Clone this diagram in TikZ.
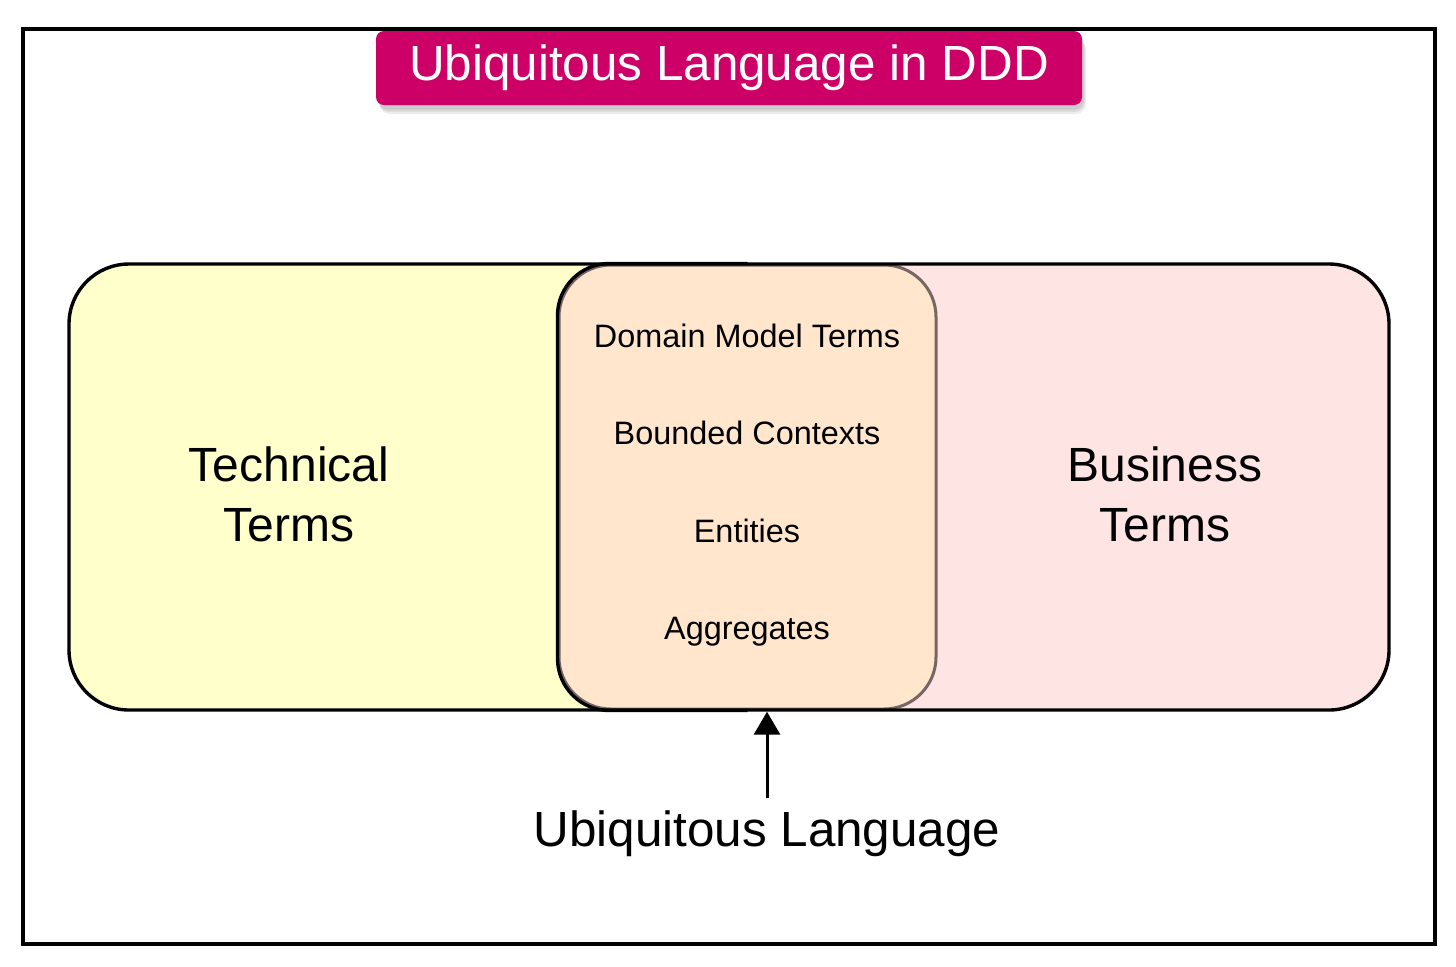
\documentclass[tikz,border=0pt]{standalone}
\usepackage{fontspec}
\setmainfont{Liberation Sans}
\usetikzlibrary{arrows.meta}
\definecolor{titlec}{HTML}{CC0066}
\definecolor{techc}{HTML}{FFFFCC}
\definecolor{busc}{HTML}{FFE4E4}
\definecolor{midc}{HTML}{FFE6CC}
\definecolor{midline}{HTML}{776666}
\begin{document}
\begin{tikzpicture}[x=0.5pt,y=-0.5pt,
  titlebox/.style={rectangle, rounded corners=4pt, fill=titlec, text=white,
    minimum width=353pt, minimum height=37pt, inner sep=0pt,
    font=\fontsize{24.7}{30}\selectfont},
  shadowbox/.style={rectangle, rounded corners=5pt, fill=black, opacity=0.07,
    minimum width=353pt, minimum height=37pt, inner sep=0pt},
  bigbox/.style={rectangle, rounded corners=30pt, line width=1.7pt,
    minimum width=660pt, minimum height=223pt, inner sep=0pt},
  midbox/.style={rectangle, rounded corners=26pt, line width=1.5pt, draw=midline, fill=midc,
    minimum width=188.5pt, minimum height=222pt, inner sep=0pt},
  bigtext/.style={align=center, font=\fontsize{24}{30}\selectfont, inner sep=0pt},
  midtext/.style={anchor=base, font=\fontsize{16.2}{20}\selectfont, inner sep=0pt},
  labeltext/.style={anchor=base, font=\fontsize{24.7}{30}\selectfont, inner sep=0pt},
  arr/.style={line width=1.5pt, -{Triangle[width=13pt,length=11.5pt]}}
]
\useasboundingbox (0,0) rectangle (1456,966);
\fill[white] (0,0) rectangle (1456,966);
\draw[line width=2pt] (23,29) rectangle (1435,944);

% big box filled: pink with yellow left half
\node[bigbox, fill=busc, path picture={\fill[techc] (path picture bounding box.south west) rectangle (path picture bounding box.north);}] (big) at (729,487) {};
\node[midbox] (mid) at (747.5,487) {};
\draw[line width=1.7pt, rounded corners=26pt] (mid.north) -- (mid.north west) -- (mid.south west) -- (mid.south);
\node[bigbox, draw=black] (bigline) at (729,487) {};

% soft shadow of the title
\node[shadowbox] (sh1) at (731,73) {};
\node[shadowbox] (sh2) at (732,75) {};
\node[shadowbox] (sh3) at (733,77) {};
\node[titlebox] (title) at (729,68) {Ubiquitous Language in DDD};

\node[bigtext] (tech) at (289,494) {Technical\\Terms};
\node[bigtext] (bus) at (1165,494) {Business\\Terms};

\node[midtext] (dmt) at (747,347) {Domain Model Terms};
\node[midtext] (bc) at (747,444.5) {Bounded Contexts};
\node[midtext] (ent) at (747,542) {Entities};
\node[midtext] (agg) at (747,639) {Aggregates};

\node[labeltext] (ul) at (767,846) {Ubiquitous Language};
\coordinate (ulTop) at (767,798);
\draw[arr] (ulTop) -- (ulTop |- bigline.south);
\end{tikzpicture}
\end{document}
